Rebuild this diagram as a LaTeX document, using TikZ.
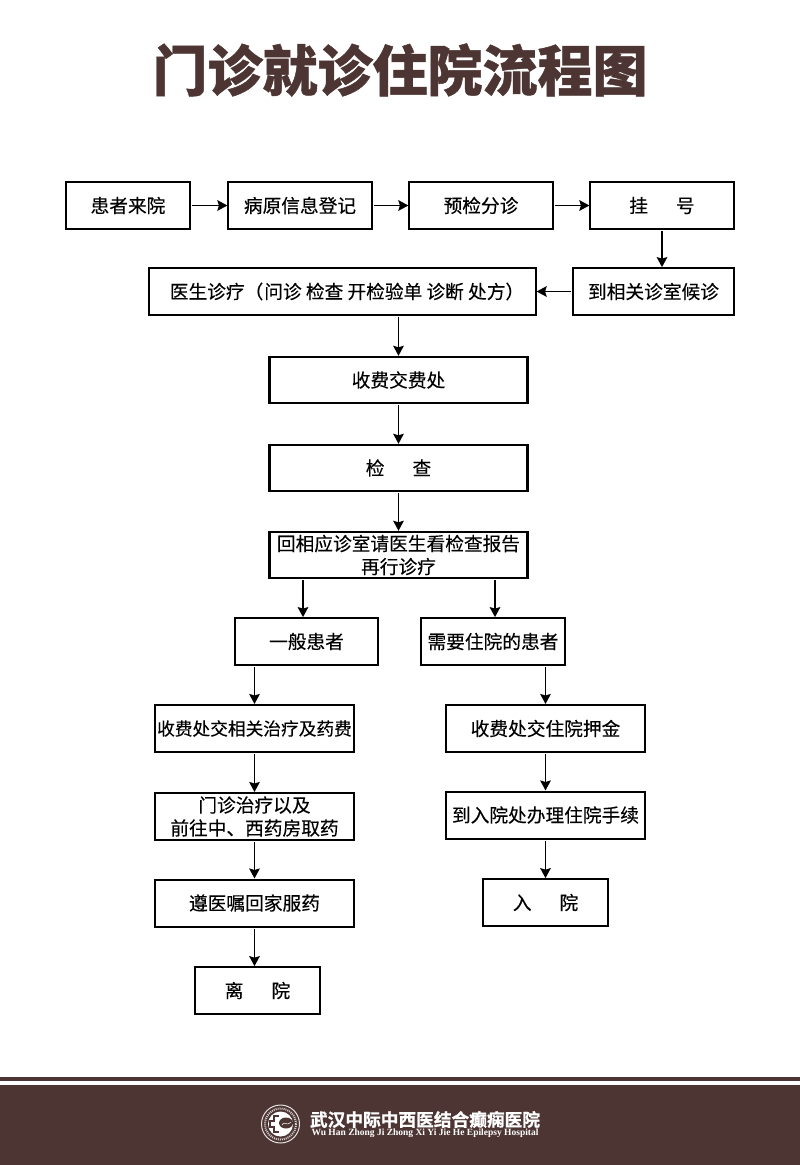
\documentclass[tikz,border=0pt]{standalone}
\usepackage{fontspec}
\setmainfont[FakeBold=0.25]{Noto Sans CJK SC}
\newfontfamily\titlefont[FakeBold=0.8]{Noto Sans CJK SC Black}
\newfontfamily\footfont[FakeBold=1]{Noto Sans CJK SC Bold}
\newfontfamily\footlatin{Liberation Serif Bold}
\usetikzlibrary{arrows.meta}
\definecolor{darkbrown}{HTML}{4D3533}
\tikzset{
	thin box/.style={draw,line width=1.2pt,inner sep=0pt,font=\fontsize{18.7}{23}\selectfont,align=center},
	main box/.style={thin box,line width=1.7pt},
	wide box/.style={main box,line width=2.4pt,minimum width=258pt,minimum height=46pt},
	start box/.style={main box,minimum width=143.5pt,minimum height=47pt},
	mid box/.style={main box,line width=2pt,minimum width=199pt,minimum height=47pt},
	end box/.style={main box,minimum width=125pt,minimum height=47pt},
	flow/.style={-{Stealth[length=10pt,width=10.5pt,inset=1.5pt]},line width=1.95pt,shorten <=1pt}
}
\begin{document}
\begin{tikzpicture}[x=1pt,y=-1pt]
\useasboundingbox (0,0) rectangle (800,1165);
\node [font=\titlefont\fontsize{55}{55}\selectfont,text=darkbrown] (title) at (400,70) {门诊就诊住院流程图};
% top row
\node [start box,minimum width=124pt] (come) at (128,205.5) {患者来院};
\node [start box] (info) at (300,205.5) {病原信息登记};
\node [start box] (triage) at (481,205.5) {预检分诊};
\node [start box] (register) at (662,205.5) {挂\hspace{1.5em}号};
\node [start box,minimum width=161pt] (wait) at (653.5,291.5) {到相关诊室候诊};
\node [thin box,minimum width=387pt,minimum height=47pt] (doctor) at (342.5,291.5) {\hspace{9pt}医生诊疗（\hspace{1pt}问诊 检查 开检验单 诊断 处方）};
% middle column
\node [wide box] (pay) at (398.5,380) {收费交费处};
\node [wide box] (exam) at (398.5,468) {检\hspace{1.5em}查};
\node [wide box] (report) at (398.5,555) {回相应诊室请医生看检查报告\\再行诊疗};
\coordinate (left turn) at (303,600);
\coordinate (right turn) at (495,600);
% left branch
\node [start box] (general) at (306.5,641.5) {一般患者};
\node [mid box,font=\fontsize{17.7}{23}\selectfont] (fee) at (254.5,728.5) {收费处交相关治疗及药费};
\node [mid box] (medicine) at (254.5,816.5) {门诊治疗以及\\前往中、西药房取药};
\node [mid box] (home) at (254.5,903) {遵医嘱回家服药};
\node [end box] (leave) at (257.5,990.5) {离\hspace{1.5em}院};
% right branch
\node [start box] (inpatient) at (493,641.5) {需要住院的患者};
\node [mid box] (deposit) at (545.5,728.5) {收费处交住院押金};
\node [mid box] (admit) at (545.5,815) {到入院处办理住院手续};
\node [end box] (enter) at (545.5,902.5) {入\hspace{1.5em}院};
% arrows
\draw [flow] (come) -- (info);
\draw [flow] (info) -- (triage);
\draw [flow] (triage) -- (register);
\draw [flow] (register.south) -- (register.south |- wait.north);
\draw [flow] (wait) -- (doctor);
\draw [flow] (doctor.south -| pay.north) -- (pay.north);
\draw [flow] (pay) -- (exam);
\draw [flow] (exam) -- (report);
\draw [flow] (report.south -| left turn) -- (left turn |- general.north);
\draw [flow] (report.south -| right turn) -- (right turn |- inpatient.north);
\draw [flow] (general.south -| fee.north) -- (fee.north);
\draw [flow] (fee) -- (medicine);
\draw [flow] (medicine) -- (home);
\draw [flow] (home.south) -- (home.south |- leave.north);
\draw [flow] (inpatient.south -| deposit.north) -- (deposit.north);
\draw [flow] (deposit) -- (admit);
\draw [flow] (admit) -- (enter);
% footer
\fill [darkbrown] (0,1077) rectangle (800,1081);
\fill [darkbrown] (0,1085) rectangle (800,1165);
\draw [white!85!darkbrown,line width=1pt] (280.5,1124) circle (19);
\draw [white!75!darkbrown,line width=2pt,dash pattern=on 1pt off 1pt] (280.5,1124) circle (15.5);
\fill [white] (280.5,1124) circle (12.5);
\draw [darkbrown,line width=2.2pt] (279,1116) -- (274,1116) -- (274,1121) -- (270,1121) -- (270,1127) -- (274,1127) -- (274,1132) -- (279,1132);
\fill [darkbrown] (286,1123) ellipse (7 and 5.5);
\draw [white,line width=.5pt] (282,1125) .. controls (284,1120) and (286,1127) .. (291,1122);
\node [font=\footfont\fontsize{17.7}{18}\selectfont,text=white,inner sep=0pt] (hospital) at (425,1119.5) {武汉中际中西医结合癫痫医院};
\node [font=\footlatin\fontsize{9.5}{10}\selectfont,text=white,inner sep=0pt] (hospital en) at (425,1133.5) {Wu Han Zhong Ji Zhong Xi Yi Jie He Epilepsy Hospital};
\end{tikzpicture}
\end{document}
